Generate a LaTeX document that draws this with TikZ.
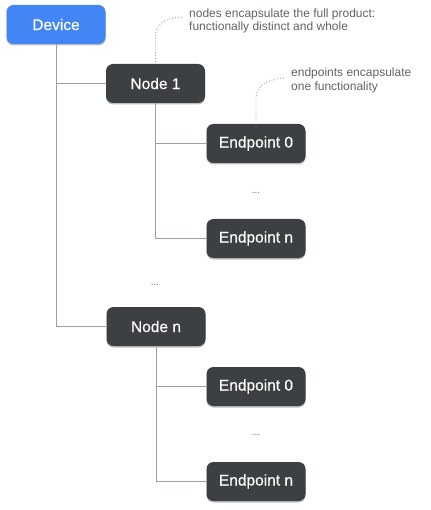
\documentclass[tikz,border=0pt]{standalone}
\usepackage{fontspec}
\setmainfont{Liberation Sans}
\newfontfamily\boxfont[FakeBold=0.5]{Liberation Sans}
\usetikzlibrary{shadows}
\definecolor{devblue}{HTML}{4285F4}
\definecolor{nodedark}{HTML}{3C4043}
\definecolor{linegray}{HTML}{9AA0A6}
\definecolor{notegray}{HTML}{5F6368}
\tikzset{
  box/.style={rectangle, rounded corners=7pt, minimum width=99pt, minimum height=39pt,
    inner sep=0pt, text=white, font=\boxfont\fontsize{15.5}{18}\selectfont,
    drop shadow={shadow xshift=0pt, shadow yshift=-1.5pt, opacity=0.25, fill=black}},
  devbox/.style={box, fill=devblue},
  darkbox/.style={box, fill=nodedark},
  tree/.style={draw=linegray, line width=0.9pt},
  note/.style={anchor=west, align=left, inner sep=0pt, text=notegray,
    font=\fontsize{12}{13.6}\selectfont},
  noteline/.style={draw=linegray, line width=0.9pt, dotted},
  dots/.style={inner sep=0pt, text=notegray, font=\fontsize{10}{12}\selectfont}
}
\begin{document}
\begin{tikzpicture}[x=1pt,y=-1pt]
\useasboundingbox (0,0) rectangle (430,510);
\node[devbox]  (dev)  at (56,24.5)   {Device};
\node[darkbox] (n1)   at (155.5,83.5) {Node 1};
\node[darkbox] (e10)  at (256,143.5) {Endpoint 0};
\node[darkbox] (e1n)  at (256,238.5) {Endpoint n};
\node[darkbox] (nn)   at (156,326.5) {Node n};
\node[darkbox] (en0)  at (256,386.5) {Endpoint 0};
\node[darkbox] (enn)  at (256,481.5) {Endpoint n};
\node[dots] (d1) at (256,193) {...};
\node[dots] (d2) at (155,285) {...};
\node[dots] (d3) at (256,435) {...};
\node[note] (t1) at (189,21) {nodes encapsulate the full product:\\functionally distinct and whole};
\node[note] (t2) at (291,80.5) {endpoints encapsulate\\one functionality};
\coordinate (a1) at (184,17);
\coordinate (a2) at (286,78);
\draw[tree] (dev.south) |- (n1.west);
\draw[tree] (dev.south) |- (nn.west);
\draw[tree] (n1.south) |- (e10.west);
\draw[tree] (n1.south) |- (e1n.west);
\draw[tree] (nn.south) |- (en0.west);
\draw[tree] (nn.south) |- (enn.west);
\draw[noteline] (n1.north) ++(0,-2) -- ++(0,-26) .. controls +(0,-14) and +(-14,0) .. (a1);
\draw[noteline] (e10.north) ++(0,-2) -- ++(0,-24) .. controls +(0,-14) and +(-14,0) .. (a2);
\end{tikzpicture}
\end{document}
